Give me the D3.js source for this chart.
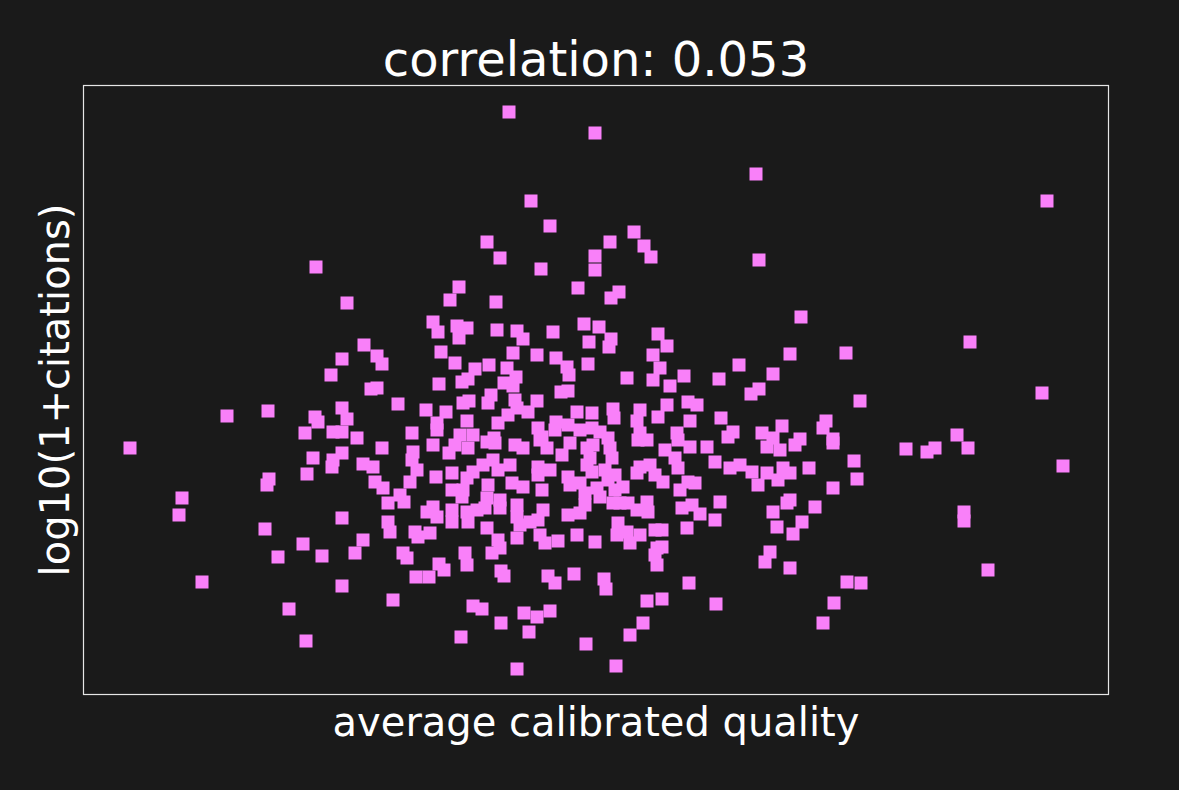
<!DOCTYPE html>
<html>
<head>
<meta charset="utf-8">
<script src="https://cdn.jsdelivr.net/npm/d3@7"></script>
<style>
  html, body { margin: 0; background: #1a1a1a; }
  text { font-family: "DejaVu Sans", sans-serif; fill: #ffffff; }
</style>
</head>
<body>
<svg id="chart" width="1179" height="790"></svg>
<script>
// Values, one entry per paper
const quality = [
    // upper tail
    4.26,5.12,4.48,4.67,4.04,4.17,4.58,5.12,5.12,2.33,3.76,3.67,4.13,4.95,2.64,6.73,9.64,5.51,5.27,5.61,5.68,6.76,5.36,5.28,7.18,
    // left tail
    1.44,1.85,0.47,1.86,1.84,0.99,0.96,1.82,1.95,1.19,2.06,
    // right tail
    8.87,7.63,9.59,7.77,8.74,8.23,8.44,8.52,8.85,7.71,7.74,9.80,8.81,8.81,9.05,7.64,7.78,
    // lower tail
    3.84,5.74,7.07,3.33,3.46,3.61,3.56,4.18,4.21,4.65,4.72,4.91,5.21,5.23,6.06,2.59,3.10,5.64,5.79,6.33,
    7.51,3.90,3.99,4.41,4.54,4.67,4.18,4.46,5.60,5.47,5.03,3.78,2.23,7.40,4.34,5.33,
    // core, upper left
    3.50,3.55,3.74,3.84,3.76,2.81,2.59,2.94,2.99,3.58,3.72,3.92,2.48,3.79,3.85,3.56,2.88,2.94,3.15,3.80,
    3.86,2.59,3.43,3.63,2.32,2.35,2.64,3.84,3.54,2.22,2.50,2.59,3.29,3.54,2.74,3.77,3.90,
    // core, upper middle
    4.14,4.34,4.40,4.70,5.01,5.16,5.06,5.28,5.26,5.75,4.30,4.54,4.73,4.84,4.86,5.05,4.06,4.24,4.33,4.21,
    4.30,5.70,5.70,5.77,5.44,4.78,4.85,4.08,4.05,4.32,4.54,4.34,4.45,4.25,4.94,5.09,5.30,5.31,5.57,5.54,
    5.75,4.15,4.55,4.73,4.85,4.97,5.09,5.17,4.72,5.57,4.11,4.59,5.25,
    // core, upper right
    5.84,7.07,6.56,6.01,6.90,6.36,5.87,6.76,6.68,6.05,6.14,5.84,6.38,6.07,6.99,7.43,7.40,5.94,6.50,6.45,
    6.79,6.90,7.17,7.50,
    // core, lower left
    2.30,2.59,2.50,2.49,2.99,2.80,2.90,2.24,2.92,3.00,3.30,3.29,3.34,3.27,3.17,3.21,3.05,3.50,3.66,3.72,
    3.85,3.53,3.69,3.84,3.90,3.69,3.80,3.79,3.44,3.50,3.54,3.69,3.69,3.84,3.85,3.94,2.59,3.05,3.07,3.32,
    3.47,3.35,2.80,2.20,2.39,2.72,3.20,3.24,3.82,
    // core, lower middle
    4.04,4.12,4.32,4.40,4.57,4.64,4.79,4.87,5.04,5.10,5.27,5.29,5.55,5.64,4.00,4.10,4.15,4.27,4.55,4.67,
    4.55,4.85,5.04,5.07,5.09,5.22,5.32,5.57,5.67,5.54,5.72,4.05,4.29,4.40,4.59,4.87,4.97,5.02,5.14,5.25,
    5.32,5.40,4.04,4.17,4.34,4.60,5.17,5.30,5.37,5.45,5.64,5.54,5.65,4.02,4.17,4.04,4.34,4.47,4.37,4.55,
    4.85,4.97,5.02,5.35,5.44,5.57,5.72,4.15,4.17,4.09,4.34,4.57,4.62,4.75,4.94,5.12,5.47,5.34,5.72,5.74,
    // core, lower right
    5.95,6.07,6.24,6.84,6.97,7.12,7.50,5.82,5.92,5.95,5.80,6.32,6.47,6.57,6.69,6.84,7.00,7.07,6.95,6.75,
    7.26,7.50,6.05,6.12,5.97,6.37,7.07,7.04,7.32,5.99,6.09,6.17,6.32,6.90,7.19,5.79,6.04,6.94,7.10,5.79,
    6.87,6.82
];

const logCitations = [
    // upper tail
    2.915,2.81,2.47,2.345,2.265,2.185,2.13,2.195,2.125,2.14,2.04,1.975,1.965,2.035,1.96,2.605,2.47,2.315,2.265,2.245,2.19,2.175,2.015,1.985,1.89,
    // left tail
    1.395,1.42,1.235,1.08,1.05,0.985,0.90,0.83,0.69,0.565,0.43,
    // right tail
    1.765,1.71,1.51,1.47,1.30,1.23,1.215,1.235,1.235,1.17,1.08,1.145,0.915,0.87,0.625,0.565,0.56,
    // lower tail
    0.65,0.65,0.635,0.59,0.59,0.625,0.655,0.62,0.595,0.595,0.56,0.605,0.58,0.53,0.56,0.545,0.475,0.47,0.48,0.455,
    0.46,0.445,0.43,0.41,0.39,0.42,0.36,0.315,0.36,0.30,0.255,0.29,0.27,0.36,0.13,0.145,
    // core, upper left
    1.865,1.815,1.845,1.835,1.785,1.75,1.68,1.695,1.655,1.715,1.66,1.63,1.60,1.565,1.58,1.555,1.53,1.535,1.455,1.46,
    1.47,1.435,1.425,1.415,1.39,1.365,1.38,1.37,1.36,1.31,1.315,1.315,1.31,1.325,1.285,1.30,1.30,
    // core, upper middle
    1.825,1.82,1.78,1.815,1.855,1.84,1.765,1.78,1.74,1.805,1.71,1.70,1.685,1.64,1.60,1.655,1.65,1.635,1.59,1.56,
    1.545,1.70,1.575,1.635,1.585,1.515,1.52,1.50,1.46,1.475,1.47,1.435,1.415,1.40,1.415,1.41,1.43,1.385,1.425,1.37,
    1.39,1.36,1.335,1.365,1.35,1.325,1.335,1.315,1.325,1.31,1.285,1.29,1.285,
    // core, upper right
    1.745,1.705,1.65,1.595,1.605,1.58,1.545,1.53,1.505,1.465,1.45,1.45,1.385,1.37,1.345,1.37,1.335,1.31,1.315,1.29,
    1.31,1.285,1.28,1.28,
    // core, lower left
    1.185,1.21,1.175,1.14,1.235,1.155,1.14,1.105,1.065,1.035,1.215,1.175,1.125,1.065,1.00,0.965,0.96,1.25,1.21,1.25,
    1.235,1.09,1.11,1.085,1.115,1.025,1.025,0.99,0.915,0.94,0.89,0.925,0.865,0.915,0.865,0.925,0.885,0.865,0.815,0.815,
    0.81,0.79,0.775,0.755,0.695,0.71,0.71,0.685,0.71,
    // core, lower middle
    1.265,1.26,1.25,1.235,1.275,1.235,1.20,1.26,1.235,1.25,1.235,1.185,1.275,1.275,1.15,1.175,1.125,1.15,1.14,1.125,
    1.10,1.09,1.15,1.185,1.115,1.125,1.10,1.14,1.15,1.11,1.10,1.05,1.06,1.04,1.025,1.05,1.06,1.01,1.035,1.075,
    1.025,1.04,0.985,0.975,0.95,0.925,0.99,0.96,0.96,0.96,0.965,0.925,0.915,0.935,0.935,0.835,0.89,0.865,0.85,0.875,
    0.90,0.91,0.95,0.86,0.815,0.80,0.825,0.775,0.735,0.71,0.785,0.80,0.76,0.77,0.80,0.765,0.76,0.80,0.70,0.735,
    // core, lower right
    1.275,1.24,1.24,1.24,1.225,1.25,1.26,1.225,1.185,1.135,1.065,1.165,1.135,1.15,1.115,1.11,1.135,1.11,1.075,1.05,
    1.135,1.035,1.065,1.06,1.025,0.965,0.975,0.96,0.94,0.935,0.95,0.905,0.875,0.915,0.865,0.825,0.835,0.84,0.805,0.74,
    0.715,0.665
];

const titleText = "correlation: 0.053";
const xLabelText = "average calibrated quality";
const yLabelText = "log10(1+citations)";

if (quality.length !== logCitations.length) {
    console.warn("length mismatch", quality.length, logCitations.length);
}
const data = quality.map((q, i) => ({ q: q, c: logCitations[i] }));

const svg = d3.select("#chart");
const width = +svg.attr("width");
const height = +svg.attr("height");
const margin = { top: 85, right: 70, bottom: 95, left: 83 };

svg.append("rect")
    .attr("width", width)
    .attr("height", height)
    .attr("fill", "#1a1a1a");

// no ticks in the original, so the domains just frame the cloud
const x = d3.scaleLinear()
    .domain([0, 10.26])
    .range([margin.left, width - margin.right]);

const y = d3.scaleLinear()
    .domain([0, 3.05])
    .range([height - margin.bottom, margin.top]);

const size = 13;

svg.append("g")
    .selectAll("rect")
    .data(data)
    .enter()
    .append("rect")
    .attr("x", d => x(d.q) - size / 2)
    .attr("y", d => y(d.c) - size / 2)
    .attr("width", size)
    .attr("height", size)
    .attr("fill", "#f980f9");

// axes frame
svg.append("rect")
    .attr("x", margin.left + 0.5)
    .attr("y", margin.top + 0.5)
    .attr("width", width - margin.left - margin.right - 1)
    .attr("height", height - margin.top - margin.bottom - 1)
    .attr("fill", "none")
    .attr("stroke", "#e6e6e6")
    .attr("stroke-width", 1.2);

svg.append("text")
    .attr("x", (margin.left + width - margin.right) / 2)
    .attr("y", 76)
    .attr("text-anchor", "middle")
    .attr("font-size", "48px")
    .text(titleText);

svg.append("text")
    .attr("x", (margin.left + width - margin.right) / 2)
    .attr("y", 736)
    .attr("text-anchor", "middle")
    .attr("font-size", "40px")
    .text(xLabelText);

svg.append("text")
    .attr("transform", `translate(69, ${(margin.top + height - margin.bottom) / 2}) rotate(-90)`)
    .attr("text-anchor", "middle")
    .attr("font-size", "40px")
    .text(yLabelText);
</script>
</body>
</html>
